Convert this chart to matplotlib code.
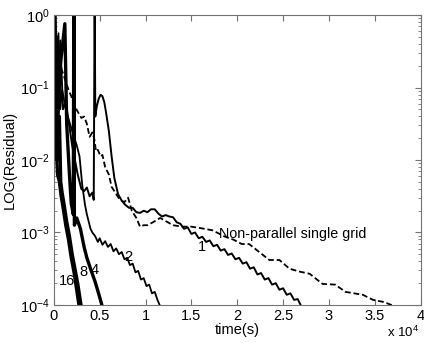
import matplotlib
matplotlib.use('Agg')
import matplotlib.pyplot as plt
import numpy as np

plt.rcParams['font.family'] = ['Liberation Sans', 'DejaVu Sans']
plt.rcParams['mathtext.fontset'] = 'custom'
plt.rcParams['mathtext.rm'] = 'Liberation Sans'
plt.rcParams['mathtext.it'] = 'Liberation Sans:italic'
plt.rcParams['mathtext.default'] = 'regular'

# ---------------------------------------------------------------------------
# Data: time in units of 1e4 s, residual stored as log10 values
# ---------------------------------------------------------------------------

# 16 processors
t16 = [0.0, 0.01, 0.02, 0.03, 0.04, 0.06, 0.08, 0.10, 0.13, 0.16, 0.19, 0.22, 0.25, 0.285]
l16 = [-0.2, -1.4, -0.5, -1.9, -2.2, -2.3, -2.5, -2.65, -2.9, -3.1, -3.35, -3.55, -3.8, -4.1]

# 8 processors
t8 = [0.0, 0.015, 0.03, 0.045, 0.06, 0.075, 0.09, 0.11, 0.14, 0.17, 0.20, 0.23, 0.26, 0.29, 0.31]
l8 = [-0.4, -1.7, -0.3, -2.0, -1.4, -2.3, -2.45, -2.6, -2.85, -3.05, -3.3, -3.5, -3.7, -3.95, -4.1]

# 4 processors
t4 = [0.0, 0.03, 0.07, 0.12, 0.14, 0.17, 0.19, 0.212, 0.218, 0.224, 0.25, 0.29, 0.33, 0.36, 0.40, 0.45, 0.49, 0.535]
l4 = [-0.6, -1.8, -0.7, -0.12, -1.5, -2.2, -2.6, -2.75, 0.3, -2.9, -2.8, -2.95, -3.2, -3.35, -3.5, -3.68, -3.85, -4.05]

# 2 processors
t2 = [0.0, 0.02, 0.05, 0.07, 0.09, 0.14, 0.2, 0.25, 0.28, 0.31, 0.34, 0.36, 0.38, 0.40, 0.42,
      0.45, 0.48, 0.5, 0.53, 0.56, 0.59, 0.62, 0.65, 0.68, 0.71, 0.74, 0.77, 0.8, 0.83, 0.86,
      0.89, 0.92, 0.95, 0.98, 1.01, 1.04, 1.07, 1.1, 1.13, 1.17]
l2 = [-0.9, -2.0, -0.25, -1.3, -1.03, -1.35, -1.6, -1.8, -1.95, -2.35, -2.62, -2.75, -2.85, -2.95, -3.0,
      -3.05, -3.13, -3.08, -3.17, -3.12, -3.2, -3.16, -3.26, -3.22, -3.3, -3.27, -3.37, -3.35, -3.45, -3.43,
      -3.55, -3.53, -3.65, -3.63, -3.74, -3.72, -3.84, -3.82, -3.93, -4.05]

# 1 processor
t1 = [0.0, 0.02, 0.04, 0.07, 0.1, 0.13, 0.2, 0.26, 0.3, 0.33, 0.36, 0.39, 0.42, 0.435, 0.445,
      0.452, 0.47, 0.49, 0.51, 0.53, 0.55, 0.57, 0.6, 0.63, 0.66, 0.7, 0.74, 0.78, 0.82, 0.86,
      0.9, 0.94, 0.98, 1.02, 1.06, 1.1, 1.14, 1.18, 1.22, 1.26, 1.3, 1.34, 1.38, 1.42, 1.46,
      1.5, 1.54, 1.58, 1.62, 1.66, 1.7, 1.74, 1.78, 1.82, 1.86, 1.9, 1.94, 1.98, 2.02, 2.06,
      2.1, 2.14, 2.18, 2.22, 2.26, 2.3, 2.34, 2.38, 2.42, 2.46, 2.5, 2.54, 2.58, 2.62, 2.66, 2.71]
l1 = [-0.5, 0.1, -1.7, -0.35, -1.3, -1.2, -1.8, -2.2, -2.4, -2.43, -2.38, -2.5, -2.45, -2.55, 0.3,
      -1.4, -1.25, -1.15, -1.1, -1.12, -1.2, -1.35, -1.6, -1.95, -2.25, -2.47, -2.56, -2.62, -2.66, -2.66,
      -2.72, -2.73, -2.7, -2.72, -2.68, -2.68, -2.74, -2.78, -2.76, -2.78, -2.79, -2.86, -2.88, -2.95, -2.93,
      -3.02, -3.0, -3.08, -3.06, -3.13, -3.11, -3.19, -3.17, -3.25, -3.23, -3.31, -3.29, -3.37, -3.35, -3.43,
      -3.41, -3.5, -3.48, -3.58, -3.56, -3.65, -3.63, -3.72, -3.7, -3.79, -3.77, -3.86, -3.84, -3.93, -3.92, -4.05]

# Non-parallel single grid (dashed)
td = [0.08, 0.12, 0.16, 0.2, 0.25, 0.3, 0.33, 0.36, 0.39, 0.42, 0.44, 0.46, 0.48, 0.51, 0.53,
      0.56, 0.6, 0.63, 0.67, 0.72, 0.77, 0.81, 0.85, 0.9, 0.94, 0.98, 1.02, 1.08, 1.16, 1.23,
      1.3, 1.4, 1.5, 1.6, 1.73, 1.87, 1.96, 2.05, 2.13, 2.24, 2.35, 2.46, 2.57, 2.68, 2.79,
      2.93, 3.07, 3.18, 3.37, 3.48, 3.6, 3.72]
ld = [-0.73, -0.88, -1.03, -1.15, -1.31, -1.42, -1.40, -1.5, -1.68, -1.62, -1.7, -1.88, -1.86, -1.95, -1.93,
      -2.1, -2.2, -2.37, -2.45, -2.55, -2.58, -2.52, -2.7, -2.8, -2.92, -2.9, -2.9, -2.86, -2.8, -2.85,
      -2.9, -2.92, -2.92, -2.94, -2.97, -3.06, -3.1, -3.16, -3.16, -3.27, -3.38, -3.38, -3.5, -3.54, -3.57,
      -3.71, -3.72, -3.82, -3.86, -3.93, -3.96, -4.02]

x_ticks = [0, 0.5, 1, 1.5, 2, 2.5, 3, 3.5, 4]
x_ticklabels = ['0', '0.5', '1', '1.5', '2', '2.5', '3', '3.5', '4']

# (text, x, log10 y) for the curve labels
curve_labels = [('16', 0.14, -3.67), ('8', 0.32, -3.55), ('4', 0.445, -3.52),
                ('2', 0.81, -3.34), ('1', 1.61, -3.2)]

# ---------------------------------------------------------------------------
# Plot
# ---------------------------------------------------------------------------

fig = plt.figure(figsize=(4.24, 3.43), dpi=100)
ax = fig.add_axes([0.127, 0.111, 0.865, 0.845])

ax.plot(td, np.power(10.0, ld), color='black', lw=1.3, dashes=(3.2, 1.6))
ax.plot(t1, np.power(10.0, l1), color='black', lw=1.4)
ax.plot(t2, np.power(10.0, l2), color='black', lw=1.3)
ax.plot(t4, np.power(10.0, l4), color='black', lw=2.4)
ax.plot(t8, np.power(10.0, l8), color='black', lw=2.4)
ax.plot(t16, np.power(10.0, l16), color='black', lw=2.4)

for txt, x, ly in curve_labels:
    ax.text(x, 10 ** ly, txt, fontsize=10.5, ha='center', va='center')
ax.text(1.8, 10 ** -3.02, 'Non-parallel single grid', fontsize=10.3, ha='left', va='center')

ax.set_yscale('log')
ax.set_xlim(0, 4)
ax.set_ylim(1e-4, 1)
ax.set_xticks(x_ticks)
ax.set_xticklabels(x_ticklabels)
ax.set_yticks([1e-4, 1e-3, 1e-2, 1e-1, 1])

ax.tick_params(which='both', direction='in', top=True, right=True, color='0.45', labelsize=10.5)
ax.tick_params(which='major', length=4, pad=3)
ax.tick_params(which='minor', length=2.2)
for s in ax.spines.values():
    s.set_color('0.45')
    s.set_linewidth(0.8)

ax.set_xlabel('time(s)', fontsize=10.5, labelpad=0)
ax.set_ylabel('LOG(Residual)', fontsize=10.5, labelpad=2)
ax.text(0.995, -0.07, r'x 10$^{4}$', transform=ax.transAxes, fontsize=9.5, ha='right', va='top')

fig.savefig('out.png', dpi=100)
